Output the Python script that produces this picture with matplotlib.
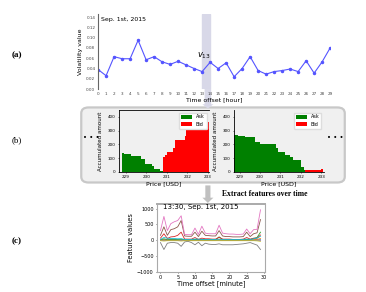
import matplotlib.pyplot as plt
import matplotlib.patches as mpatches
import numpy as np

# (a) hourly volatility
hours = np.arange(30)
volatility = [0.038, 0.026, 0.063, 0.059, 0.059, 0.095, 0.057, 0.063, 0.053, 0.048,
              0.054, 0.047, 0.040, 0.034, 0.052, 0.040, 0.051, 0.024, 0.040, 0.063,
              0.036, 0.029, 0.034, 0.036, 0.039, 0.034, 0.055, 0.031, 0.053, 0.080]

# (b) order book snapshots (step edges in USD, accumulated amounts)
ask_edges_l = [228.81, 228.94, 229.26, 229.74, 229.94, 230.26, 230.39, 230.66, 230.83]
ask_vals_l = [137, 130, 118, 95, 60, 45, 25, 10]
bid_edges_l = [230.83, 230.91, 230.99, 231.31, 231.39, 231.87, 231.95, 232.03, 233.05]
bid_vals_l = [108, 120, 142, 173, 234, 258, 342, 360]

ask_edges_r = [228.75, 228.92, 229.25, 229.74, 229.98, 230.3, 230.79, 230.87, 231.2,
               231.45, 231.61, 232.02, 232.15, 232.21]
ask_vals_r = [268, 261, 256, 220, 207, 200, 171, 146, 122, 110, 90, 37, 12]
bid_edges_r = [232.21, 232.5, 232.8, 233.0, 233.1]
bid_vals_r = [12, 14, 16, 20]

price_ticks = [229, 230, 231, 232, 233]

# (c) features over 30 minutes
minutes = np.arange(30)
features = {
    '#1f77b4': [0, 5, 0, 0, 0, 0, 5, 0, 0, 0, 0, 0, 0, 0, 0, 0, 0, 5, 0, 0, 0, 0, 0, 0, 0, 0, 0, 0, 5, 10],
    '#ff7f0e': [0, 10, 0, 5, 5, 5, 10, 0, 0, 0, 5, 0, 5, 0, 0, 0, 0, 10, 0, 0, 0, 0, 0, 0, 0, 5, 0, 10, 20, 50],
    '#2ca02c': [10, 40, 10, 20, 20, 20, 30, 10, 10, 10, 20, 10, 20, 10, 10, 10, 10, 100, 20, 10, 10, 10, 10, 10, 10, 20, 10, 50, 80, 250],
    '#d62728': [60, 200, 50, 100, 110, 150, 250, 30, 30, 30, 80, 20, 60, 40, 40, 30, 30, 90, 30, 30, 30, 20, 20, 20, 30, 80, 30, 60, 60, 160],
    '#9467bd': [-5, -10, -5, -5, -5, -5, -10, -5, -5, -5, -5, -5, -5, -5, -5, -5, -5, -5, -5, -5, -5, -5, -5, -5, -5, -5, -5, -5, -5, -10],
    '#8c564b': [150, 420, 150, 330, 360, 420, 620, 130, 120, 120, 250, 110, 280, 150, 140, 130, 130, 300, 130, 110, 110, 100, 100, 100, 110, 250, 110, 200, 230, 650],
    '#e377c2': [300, 750, 300, 520, 580, 620, 770, 180, 170, 170, 380, 180, 440, 220, 200, 200, 200, 470, 220, 200, 190, 190, 180, 180, 190, 350, 200, 330, 340, 960],
    '#7f7f7f': [-80, -300, -100, -80, -80, -100, -200, -60, -40, -80, -150, -70, -180, -100, -130, -140, -140, -120, -150, -150, -150, -150, -140, -130, -120, -100, -80, -120, -160, -300],
    '#bcbd22': [-20, -30, -20, -20, -20, -20, -30, -20, -20, -20, -20, -20, -20, -20, -20, -20, -20, -20, -20, -20, -20, -20, -20, -20, -20, -20, -20, -20, -25, -40],
    '#17becf': [20, 80, 60, 50, 50, 40, 40, 20, 20, 20, 30, 30, 20, 20, 20, 20, 20, 30, 20, 20, 20, 20, 20, 20, 20, 30, 20, 40, 60, 120],
}

fig = plt.figure(figsize=(3.66, 2.92), dpi=100)
serif = 'Liberation Serif'

# ---------- panel labels / decorations ----------
fig.text(0.033, 0.81, '(a)', family=serif, weight='bold', fontsize=6.5, va='center')
fig.text(0.033, 0.52, '(b)', family=serif, fontsize=6.5, va='center')
fig.text(0.033, 0.175, '(c)', family=serif, weight='bold', fontsize=6.5, va='center')

box = mpatches.FancyBboxPatch((0.222, 0.375), 0.72, 0.257, boxstyle='round,pad=0,rounding_size=0.02',
                              transform=fig.transFigure, facecolor='#f0f0f0', edgecolor='#c8c8c8',
                              linewidth=1.6, zorder=-2)
fig.patches.append(box)

# arrow from (a) into (b)
fig.patches.append(mpatches.FancyArrow(0.568, 0.695, 0, -0.052, width=0.018, head_width=0.03,
                                       head_length=0.015, transform=fig.transFigure,
                                       color='#d8d8e8', linewidth=0, zorder=-1))
# arrow from (b) into (c)
fig.patches.append(mpatches.FancyArrow(0.568, 0.365, 0, -0.042, width=0.014, head_width=0.03,
                                       head_length=0.018, transform=fig.transFigure,
                                       color='#c0c0c0', linewidth=0, zorder=-1))
fig.text(0.607, 0.335, 'Extract features over time', family=serif, weight='bold',
         fontsize=5.5, va='center')
fig.text(0.248, 0.527, '\u2022 \u2022 \u2022', fontsize=5, ha='center', va='center')
fig.text(0.917, 0.527, '\u2022 \u2022 \u2022', fontsize=5, ha='center', va='center')

# ---------- (a) ----------
ax1 = fig.add_axes([0.268, 0.695, 0.634, 0.257])
ax1.patch.set_alpha(0)
ax1.axvspan(13, 14, color='#d8d8e8', zorder=0)
ax1.plot(hours, volatility, color='#5555ff', linewidth=0.8, marker='o', markersize=1.5)
ax1.set_xlim(0, 29)
ax1.set_ylim(0, 0.146)
ax1.set_xticks(hours)
ax1.set_yticks(np.arange(0, 0.141, 0.02))
ax1.set_yticklabels(['%.2f' % v for v in np.arange(0, 0.141, 0.02)])
ax1.tick_params(labelsize=3, length=0, pad=2, colors='#444444')
for s in ['top', 'right', 'bottom']:
    ax1.spines[s].set_visible(False)
ax1.spines['left'].set_color('#666666')
ax1.spines['left'].set_linewidth(0.8)
ax1.set_ylabel('Volatility value', fontsize=4.5, labelpad=2)
ax1.set_xlabel('Time offset [hour]', fontsize=4.5, labelpad=1)
ax1.text(0.4, 0.136, 'Sep. 1st, 2015', fontsize=4.5, va='center')
ax1.text(12.3, 0.064, '$v_{13}$', family=serif, fontsize=6, va='center')

# ---------- (b) ----------
def book(rect, ask_e, ask_v, bid_e, bid_v, xlim, top_spine):
    ax = fig.add_axes(rect)
    ax.patch.set_alpha(0)
    ax.stairs(ask_v, ask_e, fill=True, color='#008000', label='Ask')
    ax.stairs(bid_v, bid_e, fill=True, color='#ff0000', label='Bid')
    ax.set_xlim(*xlim)
    ax.set_ylim(0, 450)
    ax.set_xticks(price_ticks)
    ax.set_yticks([0, 100, 200, 300, 400])
    ax.tick_params(labelsize=3, length=1, width=0.4, pad=1.5)
    ax.spines['right'].set_visible(False)
    ax.spines['top'].set_visible(top_spine)
    for s in ax.spines.values():
        s.set_linewidth(0.6)
    ax.set_ylabel('Accumulated amount', fontsize=4, labelpad=3)
    ax.set_xlabel('Price [USD]', fontsize=4.5, labelpad=1)
    ax.legend(loc='upper right', fontsize=3.5, handlelength=2.2, handleheight=0.9,
              frameon=True, framealpha=1, edgecolor='#dddddd', borderpad=0.4)
    return ax

book([0.325, 0.411, 0.246, 0.212], ask_edges_l, ask_vals_l, bid_edges_l, bid_vals_l,
     (228.68, 233.05), True)
book([0.639, 0.411, 0.246, 0.212], ask_edges_r, ask_vals_r, bid_edges_r, bid_vals_r,
     (228.72, 233.13), False)

# ---------- (c) ----------
ax3 = fig.add_axes([0.429, 0.07, 0.295, 0.232])
for c, vals in features.items():
    ax3.plot(minutes, vals, color=c, linewidth=0.6)
ax3.set_xlim(-1, 30.3)
ax3.set_ylim(-1000, 1150)
ax3.set_xticks([0, 5, 10, 15, 20, 25, 30])
ax3.set_yticks([-1000, -500, 0, 500, 1000])
ax3.tick_params(labelsize=3.5, length=1, width=0.4, pad=1.5)
for s in ax3.spines.values():
    s.set_color('#aaaaaa')
    s.set_linewidth(0.8)
ax3.spines['top'].set_linewidth(1.4)
ax3.set_ylabel('Feature values', fontsize=4.8, labelpad=2)
ax3.set_xlabel('Time offset [minute]', fontsize=4.8, labelpad=0.5)
ax3.text(0.6, 1050, '13:30, Sep. 1st, 2015', fontsize=5, va='center')

fig.savefig('out.png', dpi=100)
